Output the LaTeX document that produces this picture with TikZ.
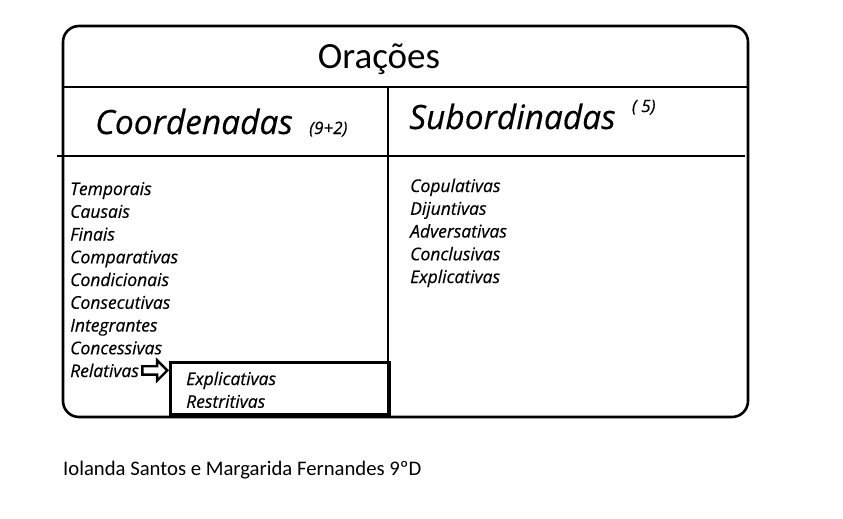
\documentclass[tikz,border=0pt]{standalone}
\usepackage{fontspec}
\setmainfont{Carlito}
\newfontfamily\handfont{Open Sans}[FakeBold=0.35]
\usetikzlibrary{shapes.arrows, positioning}

\begin{document}
\begin{tikzpicture}[x=1pt, y=1pt, node distance=22.75pt]
    \tikzstyle{frame} = [line width=2.6pt]
    \tikzstyle{title} = [font=\fontsize{37}{40}\selectfont, inner sep=0pt, anchor=base]
    \tikzstyle{heading} = [font=\handfont\itshape\fontsize{33.5}{36}\selectfont, inner sep=0pt, anchor=base west]
    \tikzstyle{count} = [font=\handfont\itshape\fontsize{17}{20}\selectfont, inner sep=0pt]
    \tikzstyle{item} = [font=\handfont\itshape\fontsize{17.5}{22}\selectfont, inner sep=0pt, anchor=base west]
    \tikzstyle{subbox} = [rectangle, draw, line width=2.6pt, minimum width=219pt, minimum height=52pt, inner sep=0pt]
    \tikzstyle{blockarrow} = [single arrow, draw, line width=2.4pt, inner sep=3pt, minimum height=25pt, single arrow head extend=6pt]
    \tikzstyle{footer} = [font=\fontsize{20.7}{24}\selectfont, inner sep=0pt, anchor=base west]

    \useasboundingbox (0,0) rectangle (843,-519);

    % Frame
    \draw [frame, rounded corners=16pt] (63,-26) rectangle (748,-417);
    \draw [frame] (63,-87) -- (748,-87);
    \draw [frame] (57,-156) -- (745,-156);
    \draw [frame] (388,-87) -- (388,-417);

    \node (title) [title] at (379,-68) {Orações};
    \node (coordenadas) [heading] at (95,-134) {Coordenadas};
    \node (coordcount) [count, base right=16pt of coordenadas] {(9+2)};
    \node (subordinadas) [heading] at (409,-129) {Subordinadas};
    \node (subcount) [count, above right=17pt and 16pt of subordinadas.base east, anchor=base west] {( 5)};

    \node (temporais) [item] at (70,-195) {Temporais};
    \node (causais) [below=of temporais.base west, item] {Causais};
    \node (finais) [below=of causais.base west, item] {Finais};
    \node (comparativas) [below=of finais.base west, item] {Comparativas};
    \node (condicionais) [below=of comparativas.base west, item] {Condicionais};
    \node (consecutivas) [below=of condicionais.base west, item] {Consecutivas};
    \node (integrantes) [below=of consecutivas.base west, item] {Integrantes};
    \node (concessivas) [below=of integrantes.base west, item] {Concessivas};
    \node (relativas) [below=of concessivas.base west, item] {Relativas};

    \node (copulativas) [item] at (410,-192) {Copulativas};
    \node (dijuntivas) [below=of copulativas.base west, item] {Dijuntivas};
    \node (adversativas) [below=of dijuntivas.base west, item] {Adversativas};
    \node (conclusivas) [below=of adversativas.base west, item] {Conclusivas};
    \node (explicativas) [below=of conclusivas.base west, item] {Explicativas};

    \node (relbox) [subbox, anchor=north west] at (169,-361) {};
    \node (relexplicativas) [item] at (186,-385) {Explicativas};
    \node (relrestritivas) [below=of relexplicativas.base west, item] {Restritivas};

    % Arrows
    \node (relarrow) [blockarrow, right=2pt of relativas] {};

    \node (authors) [footer] at (63,-475) {Iolanda Santos e Margarida Fernandes 9ºD};
\end{tikzpicture}
\end{document}
